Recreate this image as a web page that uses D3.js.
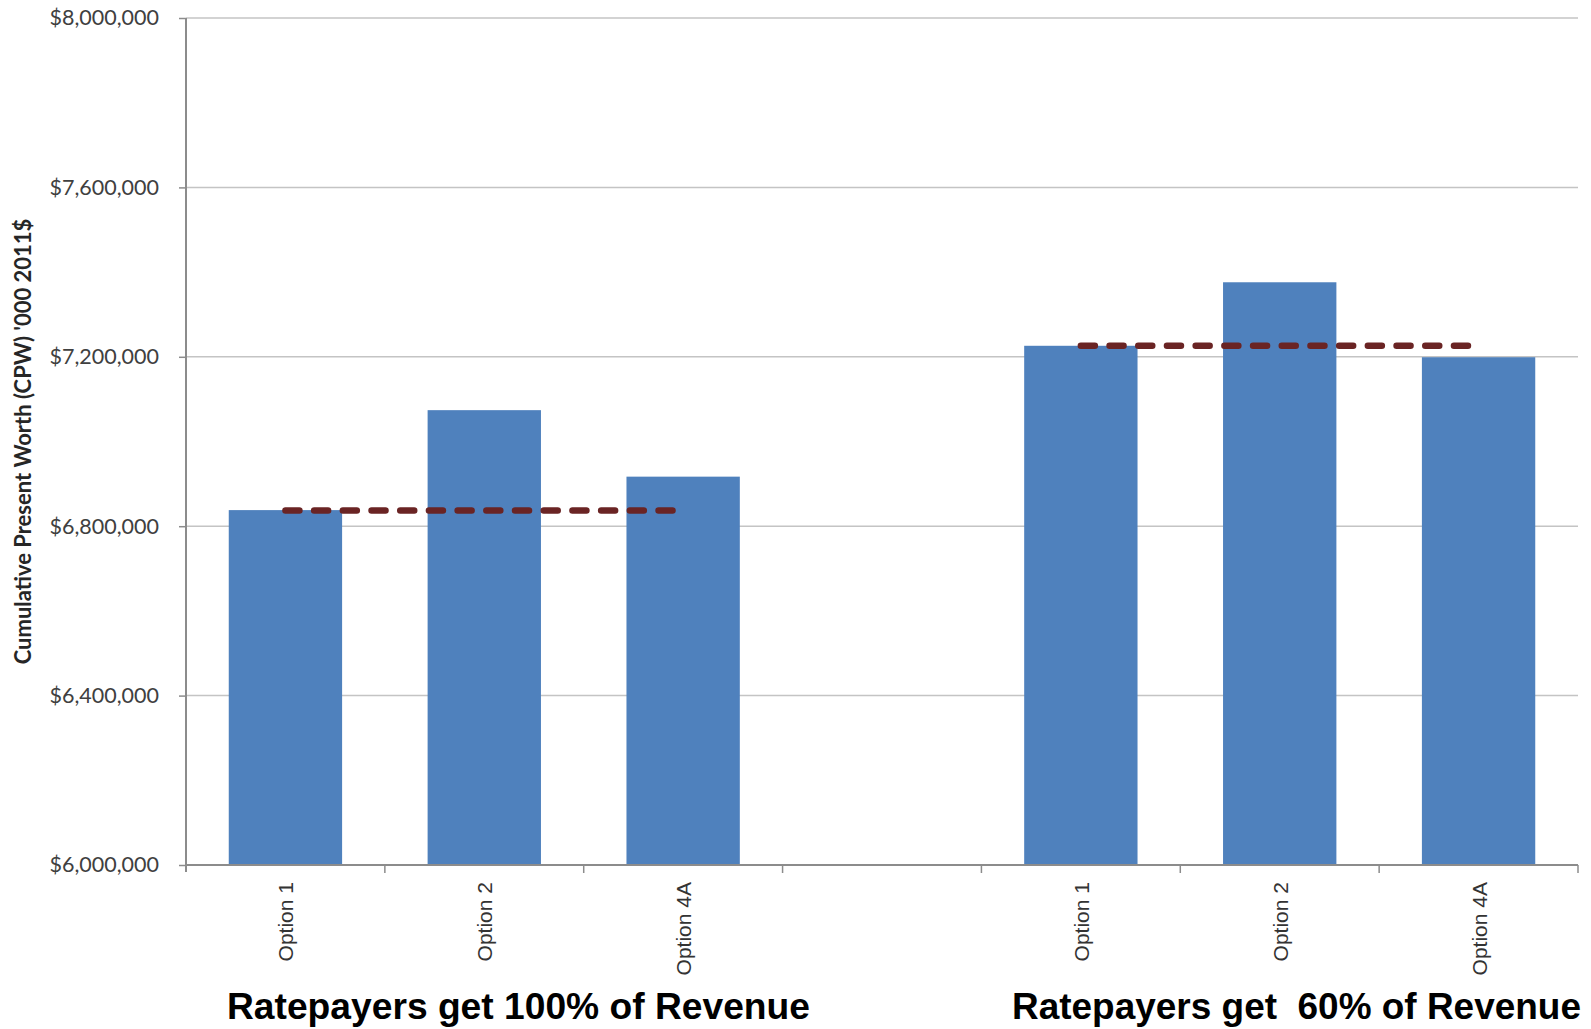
<!DOCTYPE html>
<html lang="en">
<head>
  <meta charset="UTF-8">
  <title>Cumulative Present Worth</title>
  <style>
    body { margin: 0; background: #fff; }
    svg { display: block; }
    .ytick text { font-family: Lato, 'Open Sans', sans-serif; font-size: 21.5px; fill: #404040; }
    .xtick text { font-family: 'Liberation Sans', Arial, sans-serif; font-size: 21px; fill: #333; }
    .group-title { font-family: 'Liberation Sans', Arial, sans-serif; font-weight: bold; font-size: 36px; fill: #000; white-space: pre; }
    .ylabel { font-family: Lato, 'Open Sans', sans-serif; font-weight: bold; font-size: 22px; fill: #262626; }
  </style>
</head>
<body>
  <svg width="1591" height="1029"></svg>

  <script src="https://d3js.org/d3.v7.min.js"></script>
  <script>
  // data
  const options = ["Option 1", "Option 2", "Option 4A"];
  const groupTitles = ["Ratepayers get 100% of Revenue", "Ratepayers get  60% of Revenue"];
  const values100 = [6838000, 7074000, 6917000];
  const values60 = [7226000, 7376000, 7199000];
  const refLine = [6837000, 7226000];
  const yTicks = [6000000, 6400000, 6800000, 7200000, 7600000, 8000000];

  const svg = d3.select("svg");
  const plotL = 186, plotR = 1578, plotT = 18, plotB = 865;

  // 7 slots: 3 bars, empty slot, 3 bars
  const slots = ["a0", "a1", "a2", "gap", "b0", "b1", "b2"];
  const slotLabel = { a0: options[0], a1: options[1], a2: options[2], gap: "", b0: options[0], b1: options[1], b2: options[2] };

  const x = d3.scaleBand().domain(slots).range([plotL, plotR]).paddingInner(0.43).paddingOuter(0.215);
  const y = d3.scaleLinear().domain([6000000, 8000000]).range([plotB, plotT]);

  const bars = [];
  options.forEach((o, i) => bars.push({ slot: "a" + i, v: values100[i] }));
  options.forEach((o, i) => bars.push({ slot: "b" + i, v: values60[i] }));

  // gridlines
  svg.append("g").selectAll("line")
    .data(yTicks.slice(1))
    .enter().append("line")
    .attr("x1", plotL).attr("x2", plotR)
    .attr("y1", d => y(d)).attr("y2", d => y(d))
    .attr("stroke", "#c4c4c4").attr("stroke-width", 1.5);

  // y axis
  const yAxis = svg.append("g").attr("class", "ytick")
    .attr("transform", `translate(${plotL},0)`)
    .call(d3.axisLeft(y).tickValues(yTicks).tickSize(7).tickPadding(20)
      .tickFormat(d => "$" + d3.format(",")(d)));
  yAxis.select(".domain").remove();
  yAxis.selectAll("line").attr("stroke", "#8c8c8c").attr("stroke-width", 1.5);
  svg.append("line")
    .attr("x1", plotL).attr("x2", plotL).attr("y1", plotT).attr("y2", plotB + 7)
    .attr("stroke", "#8c8c8c").attr("stroke-width", 2);

  // bars
  svg.append("g").selectAll("rect")
    .data(bars)
    .enter().append("rect")
    .attr("x", d => x(d.slot))
    .attr("y", d => y(d.v))
    .attr("width", x.bandwidth())
    .attr("height", d => y(6000000) - y(d.v))
    .attr("fill", "#4f81bd");

  // x axis
  svg.append("line")
    .attr("x1", plotL).attr("x2", plotR).attr("y1", plotB).attr("y2", plotB)
    .attr("stroke", "#8c8c8c").attr("stroke-width", 2);
  const step = x.step();
  svg.append("g").selectAll("line")
    .data(d3.range(1, slots.length + 1))
    .enter().append("line")
    .attr("x1", i => plotL + i * step).attr("x2", i => plotL + i * step)
    .attr("y1", plotB).attr("y2", plotB + 8)
    .attr("stroke", "#8c8c8c").attr("stroke-width", 1.5);

  svg.append("g").attr("class", "xtick").selectAll("text")
    .data(slots.filter(s => s !== "gap"))
    .enter().append("text")
    .attr("transform", d => `translate(${x(d) + x.bandwidth() / 2 + 8},${plotB + 17}) rotate(-90)`)
    .attr("text-anchor", "end")
    .text(d => slotLabel[d]);

  // dashed reference lines
  const refs = [
    { from: "a0", to: "a2", v: refLine[0] },
    { from: "b0", to: "b2", v: refLine[1] }
  ];
  svg.append("g").selectAll("line")
    .data(refs)
    .enter().append("line")
    .attr("x1", d => x(d.from) + x.bandwidth() / 2)
    .attr("x2", d => x(d.to) + x.bandwidth() / 2)
    .attr("y1", d => y(d.v)).attr("y2", d => y(d.v))
    .attr("stroke", "#6a2424").attr("stroke-width", 6.5)
    .attr("stroke-linecap", "round")
    .attr("stroke-dasharray", "14,14.7");

  // y label
  svg.append("text")
    .attr("class", "ylabel")
    .attr("transform", `translate(31,${(plotT + plotB) / 2}) rotate(-90)`)
    .attr("text-anchor", "middle")
    .text("Cumulative Present Worth (CPW) '000 2011$");

  // group titles
  const titlePos = [{ x: 227, w: 583 }, { x: 1012, w: 569 }];
  svg.append("g").selectAll("text")
    .data(groupTitles)
    .enter().append("text")
    .attr("class", "group-title")
    .attr("x", (d, i) => titlePos[i].x)
    .attr("y", 1019)
    .attr("textLength", (d, i) => titlePos[i].w)
    .attr("lengthAdjust", "spacingAndGlyphs")
    .text(d => d);
  </script>
</body>
</html>
